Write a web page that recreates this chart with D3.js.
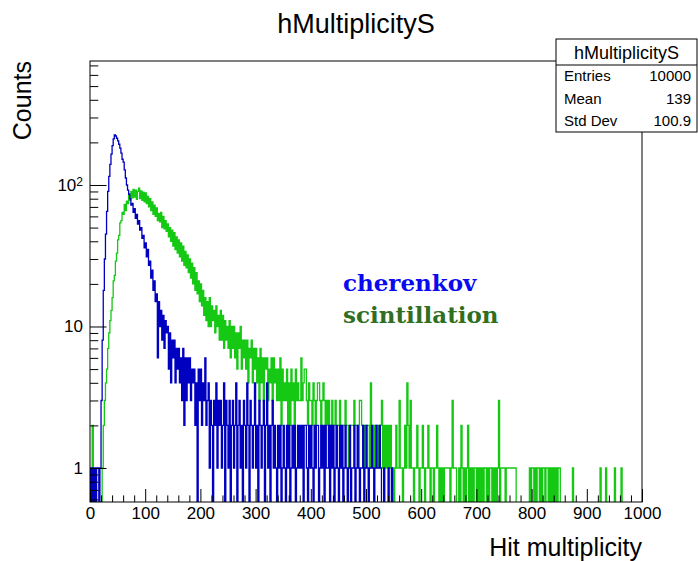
<!DOCTYPE html>
<html>
<head>
<meta charset="utf-8">
<title>hMultiplicityS</title>
<script src="https://d3js.org/d3.v7.min.js"></script>
<style>
  body { margin: 0; background: #fff; }
  text { font-family: "Liberation Sans", Arial, sans-serif; }
  .legend { font-family: "DejaVu Serif", serif; font-weight: bold; }
</style>
</head>
<body>
<div id="chart"></div>
<script>
// bin width in hit units, both histograms start at 0
const binWidth = 2;

// cherenkov counts, one value per 2-unit bin starting at 0
const cherenkov = [
  1, 0, 1, 0, 1, 0, 1, 1, 0, 1,
  3, 8, 18, 30, 45, 65, 90, 115, 140, 165,
  190, 212, 226, 222, 214, 205, 194, 182, 168, 152,
  145, 128, 112, 100, 92, 86, 80, 72, 74, 64,
  68, 58, 62, 53, 56, 48, 50, 42, 44, 36,
  39, 31, 35, 27, 29, 22, 25, 18, 21, 15,
  17, 6, 15, 10, 13, 8, 12, 7, 11, 9,
  10, 5, 9, 4, 8, 6, 8, 4, 7, 5,
  7, 4, 6, 3, 7, 2, 6, 3, 6, 4,
  6, 3, 5, 4, 5, 2, 4, 0, 5, 3,
  5, 2, 4, 3, 6, 2, 3, 4, 1, 3,
  2, 0, 3, 2, 4, 1, 3, 2, 3, 1,
  2, 4, 0, 3, 2, 1, 3, 0, 2, 3,
  1, 2, 4, 0, 2, 3, 1, 2, 0, 3,
  2, 1, 4, 2, 0, 3, 2, 1, 2, 4,
  1, 2, 0, 3, 2, 1, 2, 3, 0, 2,
  4, 1, 2, 0, 2, 3, 1, 2, 1, 0,
  2, 1, 2, 0, 1, 2, 1, 0, 2, 1,
  2, 0, 1, 2, 1, 2, 0, 1, 2, 1,
  2, 1, 2, 0, 2, 2, 1, 0, 2, 1,
  2, 1, 0, 2, 1, 2, 2, 0, 1, 2,
  1, 2, 0, 2, 1, 1, 2, 0, 2, 1,
  2, 0, 1, 2, 1, 0, 2, 1, 2, 0,
  1, 2, 1, 0, 1, 2, 0, 1, 1, 2,
  0, 1, 2, 1, 0, 1, 1, 2, 0, 1,
  2, 1, 0, 1, 1, 2, 1, 0, 1, 2,
  1, 1, 2, 1, 0, 0, 1, 0, 0, 0,
  1, 0, 0, 1, 0, 0, 0, 0, 0, 0
];

// scintillation counts, one value per 2-unit bin starting at 0
const scintillation = [
  0, 0, 2, 0, 0, 0, 0, 0, 0, 0,
  0, 1, 2, 3, 4, 5, 7, 9, 11, 13,
  16, 21, 23, 29, 33, 41, 44, 54, 56, 64,
  62, 73, 66, 77, 74, 86, 78, 90, 81, 93,
  82, 92, 79, 90, 95, 80, 91, 78, 89, 76,
  88, 74, 83, 70, 80, 66, 76, 62, 72, 60,
  69, 56, 63, 55, 64, 50, 60, 49, 56, 47,
  53, 43, 50, 40, 48, 37, 46, 35, 43, 33,
  41, 31, 39, 29, 37, 27, 34, 26, 32, 24,
  30, 22, 28, 20, 26, 18, 24, 17, 21, 15,
  20, 14, 18, 12, 16, 11, 15, 10, 16, 10,
  14, 11, 13, 9, 14, 10, 12, 8, 13, 8,
  12, 7, 11, 8, 10, 7, 11, 6, 10, 7,
  10, 6, 9, 5, 9, 7, 10, 5, 8, 6,
  8, 5, 8, 4, 7, 6, 8, 4, 7, 5,
  7, 4, 6, 3, 7, 4, 6, 3, 6, 5,
  6, 3, 5, 4, 6, 3, 6, 4, 5, 3,
  5, 3, 6, 2, 5, 3, 4, 3, 5, 2,
  4, 2, 5, 3, 4, 2, 5, 3, 4, 3,
  3, 6, 3, 4, 5, 5, 3, 2, 4, 3,
  3, 2, 4, 3, 2, 3, 4, 4, 3, 2,
  3, 4, 3, 2, 3, 2, 3, 2, 2, 3,
  2, 2, 3, 1, 2, 2, 3, 2, 1, 2,
  2, 3, 2, 2, 1, 2, 2, 2, 2, 3,
  2, 2, 2, 1, 3, 3, 2, 2, 1, 2,
  2, 2, 2, 1, 4, 2, 2, 1, 2, 2,
  2, 1, 2, 2, 3, 1, 2, 1, 2, 1,
  2, 1, 2, 1, 1, 0, 1, 2, 1, 1,
  3, 1, 1, 0, 1, 2, 1, 4, 2, 1,
  3, 1, 1, 0, 1, 1, 2, 1, 0, 1,
  1, 2, 1, 0, 1, 1, 2, 1, 0, 1,
  1, 0, 1, 1, 2, 1, 0, 1, 0, 1,
  0, 1, 1, 1, 1, 1, 0, 1, 3, 1,
  1, 1, 0, 0, 1, 0, 2, 1, 0, 1,
  0, 1, 2, 0, 1, 0, 1, 0, 1, 1,
  0, 1, 0, 1, 0, 1, 0, 1, 1, 0,
  1, 0, 1, 1, 0, 1, 0, 1, 0, 1,
  3, 0, 1, 1, 1, 1, 0, 1, 1, 1,
  1, 1, 1, 1, 1, 1, 0, 0, 0, 0,
  0, 0, 0, 0, 0, 0, 0, 0, 1, 0,
  1, 1, 0, 1, 0, 1, 1, 0, 1, 0,
  1, 1, 0, 1, 1, 0, 1, 0, 1, 0,
  1, 0, 1, 0, 1, 1, 0, 0, 0, 0,
  0, 0, 0, 0, 0, 0, 0, 1, 0, 0,
  0, 0, 0, 0, 0, 0, 0, 0, 0, 0,
  0, 0, 0, 0, 0, 0, 0, 0, 0, 0,
  0, 0, 1, 0, 0, 0, 0, 1, 0, 0,
  0, 0, 0, 0, 0, 1, 0, 0, 0, 0,
  0, 1, 0, 0, 0, 0, 0, 0, 0, 0,
  0, 0, 0, 0, 0, 0, 0, 0, 0, 0
];

const xMajorTicks = [0, 100, 200, 300, 400, 500, 600, 700, 800, 900, 1000];
const yMajorTicks = [1, 10, 100];
const statNames = ["Entries", "Mean", "Std Dev"];
const statValues = ["10000", "139", "100.9"];

const width = 698, height = 561;
const frame = { left: 90, right: 642, top: 61, bottom: 502 };

const svg = d3.select("#chart").append("svg")
  .attr("width", width)
  .attr("height", height);

svg.append("rect").attr("width", width).attr("height", height).attr("fill", "#fff");

const x = d3.scaleLinear().domain([0, 1000]).range([frame.left, frame.right]);
const y = d3.scaleLog().domain([0.575, 752]).range([frame.bottom, frame.top]);

svg.append("clipPath").attr("id", "frameClip")
  .append("rect")
  .attr("x", frame.left).attr("y", frame.top)
  .attr("width", frame.right - frame.left).attr("height", frame.bottom - frame.top);

// histogram outline, empty bins drop to below the frame bottom (log scale)
const histLine = d3.line()
  .x(d => x(d[0]))
  .y(d => d[1] > 0 ? y(d[1]) : frame.bottom + 3)
  .curve(d3.curveStepAfter);

const histPoints = counts => {
  const pts = [[0, 0]];
  counts.forEach((c, i) => pts.push([i * binWidth, c]));
  pts.push([counts.length * binWidth, 0]);
  return pts;
};

const plot = svg.append("g").attr("clip-path", "url(#frameClip)");
plot.append("path")
  .attr("d", histLine(histPoints(scintillation)))
  .attr("fill", "none").attr("stroke", "#14c814").attr("stroke-width", 1.3);
plot.append("path")
  .attr("d", histLine(histPoints(cherenkov)))
  .attr("fill", "none").attr("stroke", "#0000c0").attr("stroke-width", 1.3);

// x axis, ticks inside the frame
const xMinor = d3.range(0, 1001, 20).filter(v => v % 100 !== 0);
svg.append("g")
  .attr("transform", `translate(0,${frame.bottom})`)
  .call(d3.axisBottom(x).tickValues(xMinor).tickSize(-6.6).tickFormat(""))
  .call(g => g.select(".domain").remove());
const xAxis = svg.append("g")
  .attr("transform", `translate(0,${frame.bottom})`)
  .call(d3.axisBottom(x).tickValues(xMajorTicks).tickSize(-13).tickPadding(5).tickFormat(d3.format("d")));
xAxis.select(".domain").remove();
xAxis.selectAll("text").attr("font-size", 17).attr("fill", "#000");

// y axis (log), ticks inside the frame
const yMinor = [0.6, 0.7, 0.8, 0.9];
[1, 10, 100].forEach(dec => d3.range(2, 10).forEach(m => {
  if (m * dec < 752) yMinor.push(m * dec);
}));
svg.append("g")
  .attr("transform", `translate(${frame.left},0)`)
  .call(d3.axisLeft(y).tickValues(yMinor).tickSize(-8.3).tickFormat(""))
  .call(g => g.select(".domain").remove());
const yAxis = svg.append("g")
  .attr("transform", `translate(${frame.left},0)`)
  .call(d3.axisLeft(y).tickValues(yMajorTicks).tickSize(-16.5).tickPadding(7).tickFormat(d => d >= 100 ? "10" : String(d)));
yAxis.select(".domain").remove();
yAxis.selectAll("text").attr("font-size", 17).attr("fill", "#000");
yAxis.selectAll("text").filter(d => d === 100)
  .text("10")
  .append("tspan").attr("dy", "-0.45em").attr("font-size", 12).text(Math.round(Math.log10(100)));

// frame
svg.append("rect")
  .attr("x", frame.left).attr("y", frame.top)
  .attr("width", frame.right - frame.left).attr("height", frame.bottom - frame.top)
  .attr("fill", "none").attr("stroke", "#000").attr("stroke-width", 1);

// titles
svg.append("text")
  .attr("x", 356).attr("y", 33)
  .attr("text-anchor", "middle").attr("font-size", 27)
  .text("hMultiplicityS");
svg.append("text")
  .attr("x", frame.right).attr("y", 556)
  .attr("text-anchor", "end").attr("font-size", 25)
  .text("Hit multiplicity");
svg.append("text")
  .attr("transform", `translate(31,${frame.top}) rotate(-90)`)
  .attr("text-anchor", "end").attr("font-size", 25)
  .text("Counts");

// legend texts
svg.append("text").attr("class", "legend")
  .attr("x", 343).attr("y", 291).attr("font-size", 23).attr("fill", "#0a0aee")
  .text("cherenkov");
svg.append("text").attr("class", "legend")
  .attr("x", 343).attr("y", 323).attr("font-size", 23).attr("fill", "#2f6f1f")
  .text("scintillation");

// stats box
const box = { left: 556, right: 697, top: 39, header: 65, bottom: 132 };
const sb = svg.append("g");
sb.append("rect")
  .attr("x", box.left).attr("y", box.top)
  .attr("width", box.right - box.left).attr("height", box.bottom - box.top)
  .attr("fill", "#fff").attr("stroke", "#000").attr("stroke-width", 1);
sb.append("line")
  .attr("x1", box.left).attr("x2", box.right)
  .attr("y1", box.header).attr("y2", box.header)
  .attr("stroke", "#000");
sb.append("text")
  .attr("x", (box.left + box.right) / 2).attr("y", 59)
  .attr("text-anchor", "middle").attr("font-size", 18)
  .text("hMultiplicityS");
const rowH = (box.bottom - box.header) / statNames.length;
statNames.forEach((name, i) => {
  const yy = box.header + rowH * (i + 0.5) + 5;
  sb.append("text").attr("x", box.left + 8).attr("y", yy).attr("font-size", 15).text(name);
  sb.append("text").attr("x", box.right - 6).attr("y", yy)
    .attr("text-anchor", "end").attr("font-size", 15).text(statValues[i]);
});
</script>
</body>
</html>
